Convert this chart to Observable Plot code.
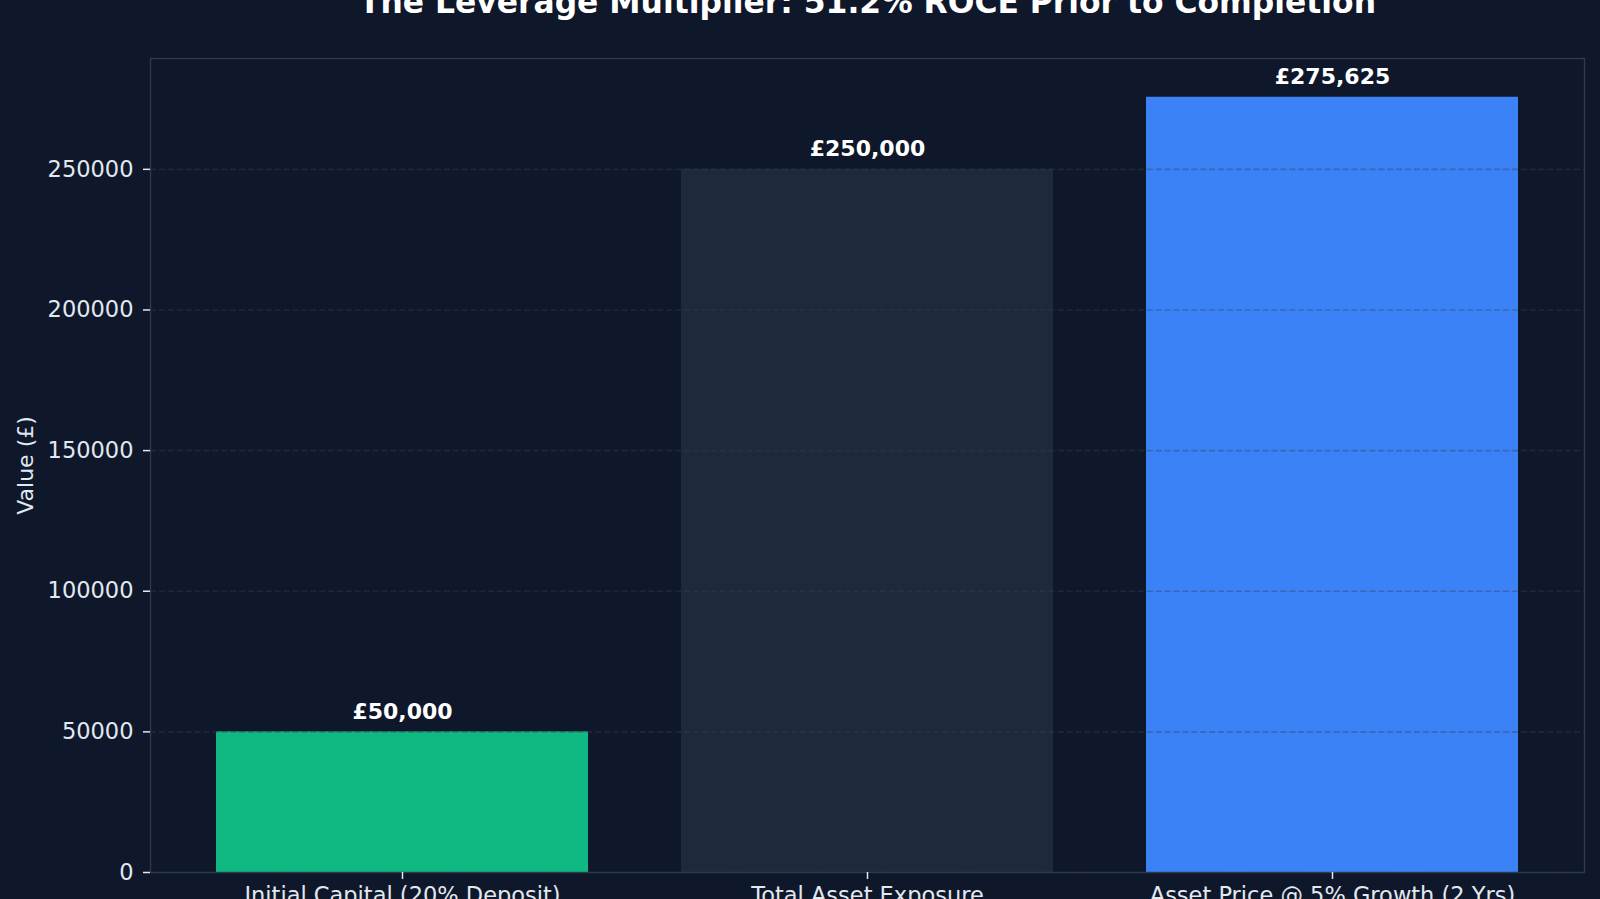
<!DOCTYPE html>
<html>
<head>
<meta charset="utf-8">
<script src="https://cdn.jsdelivr.net/npm/d3@7"></script>
<script src="https://cdn.jsdelivr.net/npm/@observablehq/plot@0.6"></script>
<style>
  html, body { margin: 0; padding: 0; background: #0f172a; overflow: hidden; }
  #chart { width: 1600px; height: 899px; }
</style>
</head>
<body>
<div id="chart"></div>
<script>
const title = "The Leverage Multiplier: 51.2% ROCE Prior to Completion";
const yLabel = "Value (£)";
const categories = ["Initial Capital (20% Deposit)", "Total Asset Exposure", "Asset Price @ 5% Growth (2 Yrs)"];
const values = [50000, 250000, 275625];
const valueLabels = ["£50,000", "£250,000", "£275,625"];
const yTicks = [0, 50000, 100000, 150000, 200000, 250000];
const palette = ["#10b981", "#1e293b", "#3b82f6"];

const data = categories.map((c, i) => ({category: c, value: values[i], label: valueLabels[i]}));
const FONT = "DejaVu Sans, sans-serif";

const chart = Plot.plot({
  width: 1600,
  height: 899,
  marginLeft: 150,
  marginRight: 16,
  marginTop: 58,
  marginBottom: 27,
  style: {background: "#0f172a", color: "#e2e8f0", fontFamily: FONT, fontSize: "22.5px", overflow: "visible"},
  x: {domain: categories, paddingInner: 0.2, paddingOuter: 0.14, label: null},
  y: {domain: [0, d3.max(values) * 1.05], label: null},
  color: {domain: categories, range: palette},
  marks: [
    Plot.barY(data, {x: "category", y: "value", fill: "category"}),
    Plot.ruleY(yTicks, {stroke: "#334155", strokeOpacity: 0.4, strokeWidth: 1.6, strokeDasharray: "6.2,2.7"}),
    Plot.frame({stroke: "#334155", strokeOpacity: 0.85, strokeWidth: 1.4}),
    Plot.axisX({tickSize: 7, tickPadding: 8, fontSize: 22.5, stroke: "#e2e8f0", strokeWidth: 1.5, fill: "#e2e8f0", label: null}),
    Plot.axisY({ticks: yTicks, tickFormat: d3.format("d"), tickSize: 7, tickPadding: 10, fontSize: 22.5, stroke: "#e2e8f0", strokeWidth: 1.5, fill: "#e2e8f0", label: null}),
    Plot.text(data, {x: "category", y: "value", text: "label", dy: -13, lineAnchor: "bottom", fill: "#ffffff", fontWeight: "bold", fontSize: 22}),
    Plot.text([title], {frameAnchor: "top", dy: -46, lineAnchor: "bottom", fill: "#ffffff", fontWeight: "bold", fontSize: 31.4}),
    Plot.text([yLabel], {frameAnchor: "left", dx: -125, rotate: -90, textAnchor: "middle", fill: "#e2e8f0", fontSize: 22})
  ]
});
document.getElementById("chart").append(chart);
</script>
</body>
</html>
